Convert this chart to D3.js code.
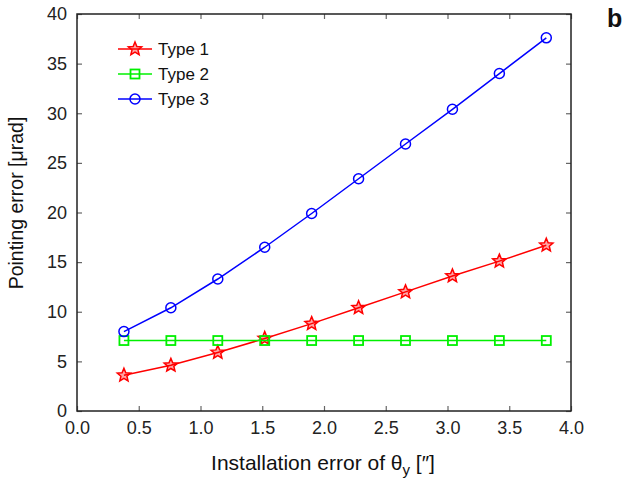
<!DOCTYPE html>
<html lang="en">
<head>
<meta charset="UTF-8">
<title>Pointing error vs installation error</title>
<script src="https://d3js.org/d3.v7.min.js"></script>
<style>
  html, body { margin: 0; padding: 0; background: #fff; }
  svg { display: block; font-family: Arial, 'Liberation Sans', sans-serif; }
</style>
</head>
<body>
<div id="chart"></div>
<script>
  // data
  const xValues = [0.38, 0.76, 1.14, 1.52, 1.90, 2.28, 2.66, 3.04, 3.42, 3.80];
  const type1 = [3.6, 4.6, 5.9, 7.3, 8.8, 10.4, 12.0, 13.6, 15.1, 16.7];
  const type2 = [7.1, 7.1, 7.1, 7.1, 7.1, 7.1, 7.1, 7.1, 7.1, 7.1];
  const type3 = [8.0, 10.4, 13.3, 16.5, 19.9, 23.4, 26.9, 30.4, 34.0, 37.6];
  const seriesNames = ["Type 1", "Type 2", "Type 3"];
  const xTicks = [0, 0.5, 1, 1.5, 2, 2.5, 3, 3.5, 4];
  const yTicks = [0, 5, 10, 15, 20, 25, 30, 35, 40];

  const W = 622, H = 479;
  const margin = {top: 14, left: 77, bottom: 68, right: 51};

  const svg = d3.select("#chart").append("svg")
    .attr("width", W).attr("height", H);

  const x = d3.scaleLinear().domain([0, 4]).range([margin.left, W - margin.right]);
  const y = d3.scaleLinear().domain([0, 40]).range([H - margin.bottom, margin.top]);

  const series = [
    {name: seriesNames[0], values: type1, color: "#ff0000", marker: "star"},
    {name: seriesNames[1], values: type2, color: "#00f000", marker: "square"},
    {name: seriesNames[2], values: type3, color: "#0000ff", marker: "circle"}
  ];

  // axes, ticks pointing inward on all four sides
  const axes = [
    {ax: d3.axisBottom(x).tickValues(xTicks).tickSize(-5).tickPadding(10).tickFormat(d3.format(".1f")), t: `translate(0,${y(0)})`},
    {ax: d3.axisTop(x).tickValues(xTicks).tickSize(-5).tickFormat(""), t: `translate(0,${y(40)})`},
    {ax: d3.axisLeft(y).tickValues(yTicks).tickSize(-5).tickPadding(10), t: `translate(${x(0)},0)`},
    {ax: d3.axisRight(y).tickValues(yTicks).tickSize(-5).tickFormat(""), t: `translate(${x(4)},0)`}
  ];
  axes.forEach(a => {
    const g = svg.append("g").attr("transform", a.t).call(a.ax);
    g.select(".domain").remove();
    g.selectAll(".tick line").attr("stroke", "#666").attr("stroke-width", 1.2);
    g.selectAll(".tick text").attr("fill", "#222").style("font-size", "18px")
      .style("font-family", "Arial, 'Liberation Sans', sans-serif");
  });

  svg.append("rect")
    .attr("x", x(0)).attr("y", y(40))
    .attr("width", x(4) - x(0)).attr("height", y(0) - y(40))
    .attr("fill", "none").attr("stroke", "#222").attr("stroke-width", 1.5);

  const starPath = (cx, cy, r) => {
    const pts = [];
    for (let i = 0; i < 10; i++) {
      const rr = i % 2 === 0 ? r : r * 0.45;
      const a = -Math.PI / 2 + i * Math.PI / 5;
      pts.push([cx + rr * Math.cos(a), cy + rr * Math.sin(a)]);
    }
    return "M" + pts.map(p => p.join(",")).join("L") + "Z";
  };

  function drawMarker(g, m, cx, cy, color) {
    if (m === "circle") {
      g.append("circle").attr("cx", cx).attr("cy", cy).attr("r", 5)
        .attr("fill", "none").attr("stroke", color).attr("stroke-width", 1.5);
    } else if (m === "square") {
      g.append("rect").attr("x", cx - 4.5).attr("y", cy - 4.5).attr("width", 9).attr("height", 9)
        .attr("fill", "none").attr("stroke", color).attr("stroke-width", 1.8);
    } else {
      g.append("path").attr("d", starPath(cx, cy, 7))
        .attr("fill", color).attr("fill-opacity", 0.35)
        .attr("stroke", color).attr("stroke-width", 1.5);
    }
  }

  const line = d3.line().x(d => x(d[0])).y(d => y(d[1]));

  series.forEach(s => {
    const pts = xValues.map((v, i) => [v, s.values[i]]);
    const g = svg.append("g");
    g.append("path").attr("d", line(pts)).attr("fill", "none")
      .attr("stroke", s.color).attr("stroke-width", 1.5);
    pts.forEach(p => drawMarker(g, s.marker, x(p[0]), y(p[1]), s.color));
  });

  // legend
  const lg = svg.append("g");
  series.forEach((s, i) => {
    const ly = 49 + i * 25;
    lg.append("line").attr("x1", 118).attr("x2", 152).attr("y1", ly).attr("y2", ly)
      .attr("stroke", s.color).attr("stroke-width", 1.5);
    drawMarker(lg, s.marker, 135, ly, s.color);
    lg.append("text").attr("x", 158).attr("y", ly + 6)
      .style("font-size", "17px").attr("fill", "#111").text(s.name);
  });

  // axis labels
  const xl = svg.append("text").attr("x", 323).attr("y", 470)
    .attr("text-anchor", "middle").style("font-size", "21px").attr("fill", "#111");
  xl.append("tspan").text("Installation error of θ");
  xl.append("tspan").attr("dy", 5).style("font-size", "15px").text("y");
  xl.append("tspan").attr("dy", -5).text(" [″]");

  svg.append("text")
    .attr("transform", `translate(23,203) rotate(-90)`)
    .attr("text-anchor", "middle").style("font-size", "19.5px").attr("fill", "#111")
    .text("Pointing error [μrad]");

  svg.append("text").attr("x", 607).attr("y", 27)
    .style("font-size", "25px").style("font-weight", "bold").attr("fill", "#111").text("b");
</script>
</body>
</html>
